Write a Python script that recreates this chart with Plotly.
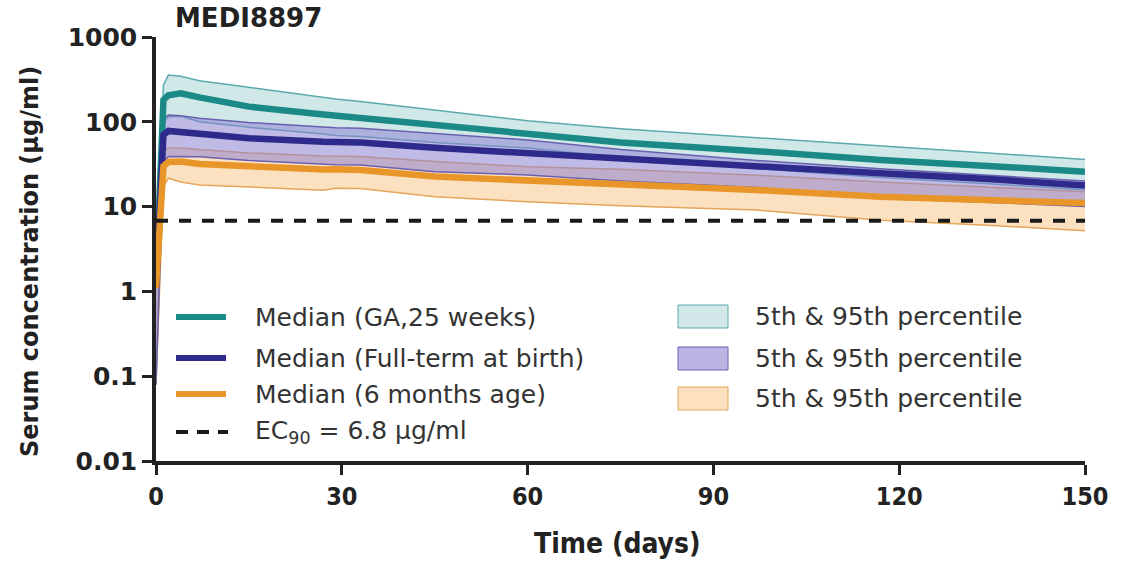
import plotly.graph_objects as go

# ---- simulated serum concentration profiles (µg/ml) ----
days = [0, 1.2, 2, 4, 7, 15, 27, 29, 33, 45, 60, 75, 97, 117, 135, 150]

ga25_p95 = [1.4, 272, 356, 345, 305, 255, 192, 186, 173, 138, 103, 83, 65, 52, 43, 36]
ga25_median = [1.2, 181, 205, 217, 194, 151, 122, 118, 113, 91.6, 72, 57, 45, 35.5, 30, 25.8]
ga25_p5 = [0.08, 100, 114, 116, 100, 86, 72, 69, 67, 57, 49, 38, 28, 22, 18.5, 15.7]

term_p95 = [1.3, 110, 120, 118, 110, 98, 87, 85, 84, 73.5, 61, 47, 35, 28, 23.5, 20]
term_median = [1.1, 70, 78, 76, 70, 64, 58, 57.5, 57, 49.3, 42.5, 36, 30, 24.7, 21, 17.7]
term_p5 = [0.08, 33, 39, 39, 38.7, 35, 31.5, 31.2, 31, 25.8, 23.6, 20, 16.8, 12.5, 11.2, 10]

m6_p95 = [1.2, 45, 49, 49, 47, 43, 39.5, 39.2, 39, 34, 29.6, 27.5, 23.5, 19.5, 16.8, 15]
m6_median = [1.1, 30, 33.6, 34, 31.8, 29.5, 27.3, 27.5, 27, 22.6, 20.6, 18, 15.7, 13.1, 12, 11]
m6_p5 = [0.08, 17.2, 21.6, 19.5, 18, 17, 15.6, 16.5, 16.4, 13.1, 11.4, 10.2, 9.1, 6.9, 6, 5.2]

ec90 = 6.8

median_labels = ["Median (GA,25 weeks)", "Median (Full-term at birth)", "Median (6 months age)"]
band_label = "5th & 95th percentile"
ec90_label = "EC<sub>90</sub> = 6.8 \u03bcg/ml"

y_tickvals = [0.01, 0.1, 1, 10, 100, 1000]
y_ticktext = ["0.01", "0.1", "1", "10", "100", "1000"]
x_tickvals = [0, 30, 60, 90, 120, 150]

# ---- styling ----
TEAL = "#1b8a87"
NAVY = "#2d2a8c"
ORANGE = "#e8952a"
groups = [
    dict(lo=ga25_p5, mid=ga25_median, hi=ga25_p95, line=TEAL,
         fill="rgba(120,190,190,0.35)", edge="#5aa9ad", swatch="#d2e8e8"),
    dict(lo=m6_p5, mid=m6_median, hi=m6_p95, line=ORANGE,
         fill="rgba(250,200,140,0.55)", edge="#e3a65a", swatch="#fde1be"),
    dict(lo=term_p5, mid=term_median, hi=term_p95, line=NAVY,
         fill="rgba(140,130,210,0.55)", edge="#6a60b0", swatch="#bbb5e3"),
]

fig = go.Figure()

# percentile bands
for g in groups:
    fig.add_trace(go.Scatter(
        x=days + days[::-1], y=g["hi"] + g["lo"][::-1],
        fill="toself", fillcolor=g["fill"], line=dict(width=0),
        mode="lines", showlegend=False, hoverinfo="skip"))
    for edge in (g["hi"], g["lo"]):
        fig.add_trace(go.Scatter(
            x=days, y=edge, mode="lines",
            line=dict(color=g["edge"], width=1.5),
            showlegend=False, hoverinfo="skip"))

# medians
for g, name in zip([groups[0], groups[2], groups[1]], median_labels):
    fig.add_trace(go.Scatter(
        x=days, y=g["mid"], mode="lines", name=name,
        line=dict(color=g["line"], width=6.5), showlegend=False))

# EC90 threshold
fig.add_trace(go.Scatter(
    x=[days[0], days[-1]], y=[ec90, ec90], mode="lines",
    line=dict(color="#1a1a1a", width=4, dash="12px,11px"),
    showlegend=False, hoverinfo="skip"))

# ---- plot area geometry (pixels) ----
W, H = 1125, 563
L, R, T, B = 156, 40, 37, 102
PW, PH = W - L - R, H - T - B


def px(xp):
    return (xp - L) / PW


def py(yp):
    return (H - B - yp) / PH


shapes = []
annotations = []
legend_font = dict(family="DejaVu Sans", size=25, color="#333333")

# left legend column: median lines and threshold
for colour, label, ypix in zip([TEAL, NAVY, ORANGE], median_labels, [317, 358, 394]):
    shapes.append(dict(type="line", xref="paper", yref="paper",
                       x0=px(176), x1=px(226), y0=py(ypix), y1=py(ypix),
                       line=dict(color=colour, width=6)))
    annotations.append(dict(xref="paper", yref="paper", x=px(253), y=py(ypix),
                            text=label, showarrow=False, xanchor="left",
                            yanchor="middle", font=legend_font))
shapes.append(dict(type="line", xref="paper", yref="paper",
                   x0=px(176), x1=px(228), y0=py(432), y1=py(432),
                   line=dict(color="#1a1a1a", width=4, dash="12px,9px")))
annotations.append(dict(xref="paper", yref="paper", x=px(253), y=py(432),
                        text=ec90_label, showarrow=False, xanchor="left",
                        yanchor="middle", font=legend_font))

# right legend column: band swatches
for g, (top, bot) in zip([groups[0], groups[2], groups[1]],
                         [(305, 328), (347, 370), (387, 410)]):
    shapes.append(dict(type="rect", xref="paper", yref="paper",
                       x0=px(678), x1=px(728), y0=py(bot), y1=py(top),
                       fillcolor=g["swatch"], line=dict(color=g["edge"], width=1)))
    annotations.append(dict(xref="paper", yref="paper", x=px(753),
                            y=py((top + bot) / 2), text=band_label,
                            showarrow=False, xanchor="left", yanchor="middle",
                            font=legend_font))

# titles
annotations.append(dict(xref="paper", yref="paper", x=px(173), y=py(18),
                        text="<b>MEDI8897</b>", showarrow=False,
                        xanchor="left", yanchor="middle",
                        font=dict(family="DejaVu Sans", size=26, color="#222222")))
annotations.append(dict(xref="paper", yref="paper", x=px(30), y=py(262),
                        text="<b>Serum concentration (\u03bcg/ml)</b>",
                        showarrow=False, textangle=-90,
                        xanchor="center", yanchor="middle",
                        font=dict(family="DejaVu Sans", size=24, color="#222222")))
annotations.append(dict(xref="paper", yref="paper", x=px(617), y=py(543),
                        text="<b>Time (days)</b>", showarrow=False,
                        xanchor="center", yanchor="middle",
                        font=dict(family="DejaVu Sans Condensed", size=28,
                                  color="#222222")))

axis_common = dict(showline=True, linecolor="#222222", linewidth=3.5,
                   ticks="outside", ticklen=10, tickwidth=3, tickcolor="#222222",
                   showgrid=False, zeroline=False)

fig.update_layout(
    width=W, height=H,
    margin=dict(l=L, r=R, t=T, b=B, pad=0),
    paper_bgcolor="white", plot_bgcolor="white",
    shapes=shapes, annotations=annotations,
    xaxis=dict(range=[0, 150], tickvals=x_tickvals,
               tickfont=dict(family="DejaVu Sans Condensed", size=25,
                             color="#222222", weight="bold"),
               **axis_common),
    yaxis=dict(type="log", range=[-2, 3], tickvals=y_tickvals,
               ticktext=y_ticktext,
               tickfont=dict(family="DejaVu Sans", size=25,
                             color="#222222", weight="bold"),
               **axis_common),
)

fig.write_html("out.html")
